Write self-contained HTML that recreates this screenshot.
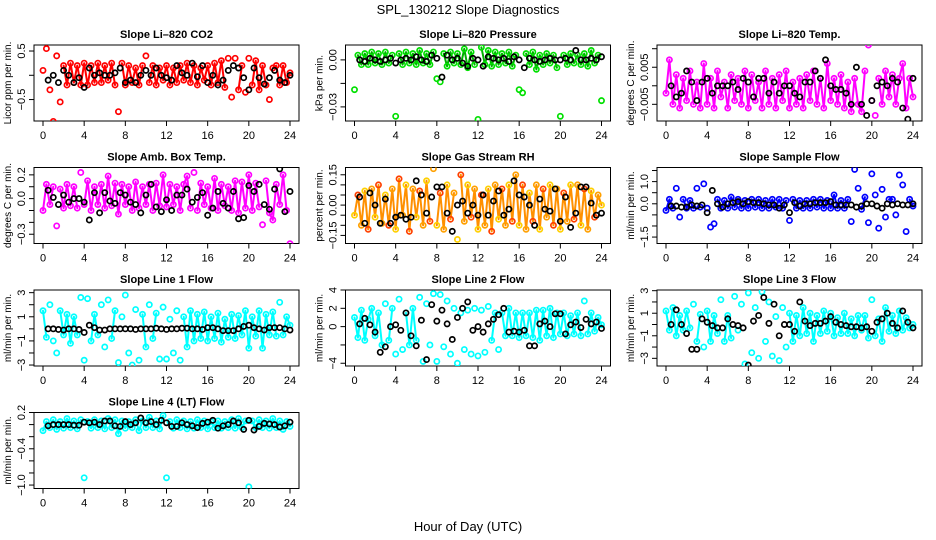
<!DOCTYPE html>
<html><head><meta charset="utf-8"><style>
html,body{margin:0;padding:0;background:#fff;}
svg{display:block;font-family:"Liberation Sans",Arial,sans-serif;}
</style></head><body>
<svg id="chart" width="936" height="540" viewBox="0 0 936 540" xmlns="http://www.w3.org/2000/svg">
<text x="468" y="14" text-anchor="middle" font-size="13">SPL_130212  Slope Diagnostics</text>
<text x="468" y="531" text-anchor="middle" font-size="13">Hour of Day (UTC)</text>
</svg>
<script>
const hours = [0,0.33,0.67,1,1.33,1.67,2,2.33,2.67,3,3.33,3.67,4,4.33,4.67,5,5.33,5.67,6,6.33,6.67,7,7.33,7.67,8,8.33,8.67,9,9.33,9.67,10,10.33,10.67,11,11.33,11.67,12,12.33,12.67,13,13.33,13.67,14,14.33,14.67,15,15.33,15.67,16,16.33,16.67,17,17.33,17.67,18,18.33,18.67,19,19.33,19.67,20,20.33,20.67,21,21.33,21.67,22,22.33,22.67,23,23.33,23.67,24];
const hoursBlack = [0.5,1,1.5,2,2.5,3,3.5,4,4.5,5,5.5,6,6.5,7,7.5,8,8.5,9,9.5,10,10.5,11,11.5,12,12.5,13,13.5,14,14.5,15,15.5,16,16.5,17,17.5,18,18.5,19,19.5,20,20.5,21,21.5,22,22.5,23,23.5,24];
const xTicks = [0,4,8,12,16,20,24];

const co2 = [0.1,0.55,-0.3,-0.95,0.4,-0.55,0.2,-0.2,0.25,-0.15,0.2,-0.2,
0.25,-0.2,0.2,-0.15,0.25,-0.15,0.2,-0.1,0.25,-0.2,-0.75,0.25,
-0.2,0.2,-0.15,0.15,-0.2,0.2,0.4,-0.15,0.2,-0.2,0.15,-0.1,
0.2,-0.2,0.15,-0.15,0.2,-0.1,0.25,-0.15,0.2,-0.2,0.15,-0.1,
0.2,-0.2,0.25,-0.15,0.3,-0.25,0.35,-0.45,0.35,-0.3,0.2,-0.35,
0.35,-0.2,0.3,-0.3,0.2,-0.2,-0.5,0.15,0.2,-0.2,0.2,-0.15,0.05];
const co2Black = [-0.1,0.0,-0.15,0.1,0.0,-0.15,-0.05,-0.25,0.15,0.0,0.05,0.0,
0.0,0.05,0.15,-0.15,-0.1,-0.15,0.0,0.1,0.0,0.15,0.0,-0.05,
-0.1,0.2,0.05,0.0,0.25,-0.03,0.2,-0.15,0.0,-0.2,-0.1,0.1,
0.2,0.15,-0.05,-0.3,0.15,-0.05,-0.18,-0.05,0.1,-0.1,-0.15,0.0];

const pressure = [-0.019,0.003,-0.003,0.004,-0.003,0.005,-0.002,0.004,-0.003,0.005,-0.002,0.003,
-0.036,0.004,-0.003,0.005,-0.002,0.004,-0.003,0.006,-0.002,0.004,-0.003,0.005,
-0.012,-0.014,0.004,-0.004,0.005,-0.002,0.004,-0.003,0.007,-0.005,0.005,-0.003,
-0.038,0.008,-0.003,0.006,-0.004,0.005,-0.003,0.004,-0.002,0.005,-0.004,0.003,
-0.019,-0.021,0.004,-0.003,0.005,-0.006,0.003,-0.003,0.004,-0.002,0.003,-0.005,
-0.036,0.003,-0.003,0.004,-0.002,0.003,-0.003,0.004,-0.004,0.006,-0.002,0.003,-0.026];
const pressureBlack = [0.0,-0.001,0.001,0.0,-0.001,0.0,0.001,-0.002,0.0,0.001,0.0,0.002,
0.0,-0.001,0.003,0.001,-0.011,0.003,0.0,0.001,-0.002,-0.004,0.001,0.0,
-0.004,0.002,0.001,0.0,0.001,-0.001,0.002,0.0,-0.005,0.001,0.0,-0.001,
0.0,0.001,0.0,0.0,0.001,0.0,0.006,0.0,0.0,0.001,0.0,0.002];

const licorTemp = [-0.002,0.007,-0.005,0.003,-0.006,0.002,-0.004,0.004,-0.005,0.001,-0.006,0.006,
-0.005,0.002,-0.006,0.004,-0.003,0.001,-0.006,0.003,-0.004,0.002,-0.005,0.004,
-0.006,0.003,-0.004,0.001,-0.006,0.004,-0.005,0.002,-0.006,0.003,-0.004,0.004,
-0.006,0.001,-0.005,0.002,-0.006,0.003,-0.004,0.004,-0.005,0.002,-0.006,0.006,
-0.004,0.002,-0.005,0.003,-0.006,0.001,-0.007,0.002,-0.005,-0.007,0.004,0.011,
-0.004,-0.008,0.002,-0.005,0.004,-0.003,0.003,-0.005,0.002,0.006,-0.006,0.002,-0.003];
const licorTempBlack = [0.0,-0.003,-0.002,0.004,0.001,-0.004,0.001,0.002,-0.002,0.0,0.0,0.0,
0.001,-0.001,0.002,0.001,-0.003,0.002,0.002,-0.002,0.001,-0.002,0.0,0.0,
-0.002,-0.003,0.001,0.001,0.004,0.002,0.007,0.0,-0.001,-0.001,-0.002,-0.005,
0.005,-0.005,-0.008,-0.004,0.0,0.001,0.0,0.002,0.001,-0.006,-0.009,0.002];

const ambTemp = [-0.1,0.12,-0.05,0.1,-0.23,0.08,-0.08,0.12,-0.06,0.1,-0.08,0.22,
-0.05,0.15,-0.1,0.1,-0.05,0.12,-0.08,0.19,-0.06,0.13,-0.13,0.12,
-0.05,0.1,-0.1,0.14,-0.08,0.1,-0.05,0.12,-0.1,0.13,-0.06,0.2,
-0.07,0.12,-0.05,0.1,-0.1,0.12,0.19,-0.08,0.22,-0.1,0.13,-0.05,
0.1,-0.08,0.17,-0.1,0.12,-0.06,0.1,-0.1,0.15,-0.12,0.14,-0.08,
0.2,-0.1,0.13,-0.07,-0.22,0.15,-0.12,-0.18,0.12,-0.05,0.2,-0.1,-0.38];
const ambTempBlack = [0.07,0.01,-0.05,0.03,-0.03,0.0,0.0,-0.03,-0.18,0.05,-0.12,0.05,
-0.02,-0.04,0.05,0.03,-0.03,-0.05,-0.12,0.03,0.12,-0.07,-0.11,-0.01,
-0.1,0.03,0.03,0.08,-0.03,0.01,0.05,-0.14,-0.08,0.06,-0.04,-0.08,
0.06,-0.17,-0.16,0.11,0.06,0.12,-0.05,-0.09,0.08,0.25,-0.11,0.06];

const gasRH = [-0.05,0.05,-0.1,0.07,-0.12,0.08,-0.06,0.1,-0.09,0.05,-0.1,0.08,
-0.12,0.13,-0.05,0.1,-0.13,0.08,-0.06,0.07,-0.1,0.12,-0.08,0.18,
-0.1,0.06,-0.12,0.1,-0.07,0.06,-0.17,0.15,-0.08,0.1,-0.06,0.08,
-0.12,0.05,-0.1,0.08,-0.13,0.1,-0.07,0.08,-0.1,0.1,-0.08,0.15,
-0.1,0.1,-0.12,0.06,-0.08,0.1,-0.12,0.08,-0.06,0.1,-0.1,0.08,
-0.12,0.06,-0.08,0.1,-0.07,0.1,-0.1,0.08,-0.12,0.07,-0.06,0.05,0.0];
const gasRHBlack = [0.04,-0.09,0.06,0.0,-0.09,0.03,-0.09,-0.06,-0.05,-0.07,-0.06,0.12,
0.05,-0.04,0.04,0.09,0.09,-0.04,-0.13,0.0,0.02,-0.04,0.0,-0.05,
0.05,-0.05,0.02,0.07,-0.05,-0.02,0.12,0.05,0.04,0.0,-0.1,0.03,
-0.02,-0.03,0.08,-0.08,0.04,-0.11,-0.04,0.09,0.09,0.01,-0.05,-0.04];

const sampleFlow = [-0.3,0.2,-0.2,0.7,-0.6,0.2,-0.2,0.15,-0.2,0.7,-0.15,0.9,
-0.2,-1.05,-0.9,0.2,-0.2,0.15,-0.2,0.3,-0.15,0.2,-0.2,0.15,
-0.2,0.2,-0.15,0.2,-0.2,0.15,-0.2,0.2,-0.15,0.2,-0.2,0.15,
-0.75,0.2,-0.2,0.15,-0.2,0.15,-0.2,0.2,-0.15,0.2,-0.2,0.15,
-0.2,0.4,-0.2,0.15,-0.2,0.2,-0.8,1.55,0.7,-0.25,0.3,-0.85,
1.35,0.4,-1.1,0.65,-0.6,0.2,0.2,-0.5,1.3,0.85,-1.25,0.2,-0.1];
const sampleFlowBlack = [-0.1,-0.1,-0.15,-0.15,-0.05,-0.1,-0.05,-0.4,0.6,0.0,-0.15,0.0,
0.05,0.1,0.0,0.1,0.05,0.05,0.0,-0.05,-0.05,-0.2,-0.05,-0.4,
0.05,-0.1,0.0,0.0,0.05,0.05,0.05,0.1,-0.05,-0.05,-0.05,-0.05,
-0.15,-0.1,0.0,0.0,-0.1,-0.2,0.0,-0.05,0.0,-0.05,-0.05,0.0];

const line1 = [1.5,-0.7,2.0,-1.0,-2.0,1.5,-0.5,1.2,-1.2,1.0,-0.5,2.6,
-2.6,2.5,-1.0,1.2,-0.5,2.0,-1.5,2.4,-0.8,1.5,-2.8,1.0,
2.8,-2.0,-3.0,1.6,-2.6,1.2,-1.5,2.0,-0.8,1.3,-2.5,1.8,
-2.5,0.8,-2.0,1.5,-2.6,1.0,-1.5,1.5,-1.0,1.2,-0.8,1.4,
-1.0,1.0,-0.8,1.3,-1.1,0.8,-0.7,1.2,-0.8,1.1,-0.5,1.5,
-1.6,1.0,-0.6,1.5,-1.6,1.2,-0.5,1.4,-0.6,2.2,-0.5,1.0,0.3];
const line1Black = [0.0,0.0,-0.05,-0.1,0.0,0.0,-0.05,-0.3,0.3,0.1,-0.1,-0.1,
0.0,0.0,0.0,0.0,0.0,-0.05,0.0,0.0,0.0,0.05,0.0,-0.05,
0.0,0.0,0.05,0.05,0.0,0.0,-0.05,0.1,0.1,0.0,-0.15,-0.15,
-0.15,0.0,0.2,0.3,0.1,0.0,-0.1,0.1,0.1,0.1,0.0,-0.1];

const line2 = [1.0,-1.2,1.8,-1.5,0.8,2.0,-1.0,1.5,-2.0,2.5,-1.5,2.0,
-3.0,3.0,-2.5,1.5,-2.0,2.0,-1.5,3.2,-3.8,2.5,-2.0,3.6,
-3.8,3.5,-2.2,2.8,-3.0,2.0,-4.0,1.5,-2.5,1.8,-3.0,2.0,
-3.2,1.8,-2.8,2.2,-1.5,1.5,-2.5,1.5,-1.0,2.0,-1.0,1.5,
-1.2,1.5,-1.0,1.5,-1.2,1.8,-1.5,1.8,-1.0,2.0,-1.2,1.5,
-0.8,1.5,-1.0,1.2,-0.8,1.5,-1.0,2.8,-0.8,1.5,-0.5,1.0,0.2];
const line2Black = [0.3,0.9,0.2,-0.6,-2.8,-2.2,0.0,0.2,-0.4,1.5,-1.0,-2.1,
0.7,-3.6,2.4,0.6,1.8,0.3,-1.4,1.0,2.0,2.7,-0.4,0.0,
-0.6,0.3,0.8,1.3,2.0,-0.6,-0.5,-0.6,-0.4,-2.1,-2.1,0.3,
0.6,0.0,1.4,1.4,-0.8,0.2,0.5,-0.1,0.8,0.3,0.5,-0.2];

const line3 = [1.2,-0.5,1.5,-1.0,0.8,-0.5,1.2,-0.3,1.8,-1.5,0.9,-2.0,
1.2,-1.5,0.8,-0.8,2.2,-1.5,0.8,-1.2,2.5,-0.5,1.8,-3.5,
2.8,-2.5,1.5,-3.0,2.9,-1.5,2.0,-2.8,0.7,-3.2,1.5,-2.0,
1.0,-1.5,0.8,-1.0,1.5,-0.8,1.0,-1.5,0.8,-0.8,1.2,-0.6,
1.0,-1.0,0.6,-0.8,1.0,-0.8,0.5,-1.0,0.8,-0.5,0.8,-1.2,
2.2,-1.0,0.5,-1.5,1.5,-0.6,0.8,-0.8,1.2,-0.5,0.6,-0.3,0.0];
const line3Black = [0.0,1.3,0.0,-0.8,-2.2,-2.2,0.5,0.2,-0.1,-0.3,-0.3,0.5,
0.0,-0.1,-0.3,-3.6,0.3,0.8,2.4,0.1,1.8,-1.0,0.0,0.0,
-0.6,2.0,0.3,-0.1,0.1,0.1,0.3,0.7,0.2,0.0,-0.1,-0.2,
-0.2,-0.3,-0.2,-0.6,0.2,0.5,1.0,0.1,-0.3,1.2,0.2,-0.3];

const line4 = [-0.1,0.05,-0.05,0.08,-0.08,0.05,-0.06,0.1,-0.05,0.06,-0.07,0.08,
-0.88,0.05,-0.06,0.08,-0.05,0.06,-0.07,0.1,-0.05,0.08,-0.15,0.06,
-0.06,0.05,-0.05,0.08,-0.1,0.06,-0.05,0.12,-0.05,0.06,-0.07,0.15,
-0.88,0.05,-0.06,0.08,-0.05,0.06,-0.07,0.05,-0.06,0.08,-0.05,0.06,
-0.07,0.05,-0.05,0.06,-0.06,0.05,-0.05,0.08,-0.06,0.1,-0.05,0.06,
-1.03,0.06,-0.05,0.08,-0.05,0.06,-0.06,0.1,-0.05,0.06,-0.08,0.05,-0.03];
const line4Black = [-0.02,0.0,0.0,0.0,0.0,-0.01,-0.01,0.04,0.03,0.04,0.0,0.06,
0.06,-0.02,-0.03,0.05,0.0,0.03,0.11,0.03,0.05,0.0,0.07,0.03,
-0.03,-0.03,0.03,0.0,-0.02,-0.05,0.02,0.04,0.07,-0.06,-0.02,0.0,
0.06,0.03,-0.08,0.07,-0.09,-0.03,0.02,0.01,0.0,-0.04,-0.02,0.04];

const panels = [
 {id:'co2',title:'Slope Li\u2013820 CO2',ylab:'Licor ppm per min.',col:0,row:0,ymin:-0.942,ymax:0.624,ticks:[0.5,0,-0.5],labels:['0.5','','\u22120.5'],colors:['#ff0000'],band:'#ff0000',lim:0.3,vals:co2,black:co2Black},
 {id:'pressure',title:'Slope Li\u2013820 Pressure',ylab:'kPa per min.',col:1,row:0,ymin:-0.039,ymax:0.0095,ticks:[0,-0.015,-0.03],labels:['0.00','','\u22120.03'],colors:['#00e000'],band:'#00b000',lim:0.008,vals:pressure,black:pressureBlack},
 {id:'licor-temp',title:'Slope Li\u2013820 Temp.',ylab:'degrees C per min.',col:2,row:0,ymin:-0.0095,ymax:0.011,ticks:[0.01,0.005,0,-0.005],labels:['','0.005','','\u22120.005'],colors:['#ff00ff'],band:'#ff00ff',lim:0.0072,vals:licorTemp,black:licorTempBlack},
 {id:'amb-temp',title:'Slope Amb. Box Temp.',ylab:'degrees C per min.',col:0,row:1,ymin:-0.378,ymax:0.262,ticks:[0.2,0.1,0,-0.1,-0.2,-0.3],labels:['0.2','','0.0','','','\u22120.3'],colors:['#ff00ff'],band:'#ff00ff',lim:0.2,vals:ambTemp,black:ambTempBlack},
 {id:'gas-rh',title:'Slope Gas Stream RH',ylab:'percent per min.',col:1,row:1,ymin:-0.19,ymax:0.186,ticks:[0.15,0.1,0.05,0,-0.05,-0.1,-0.15],labels:['0.15','','','0.00','','','\u22120.15'],colors:['#ffd000','#ff4000','#ffa000'],band:'#ff9000',lim:0.16,vals:gasRH,black:gasRHBlack},
 {id:'sample-flow',title:'Slope Sample Flow',ylab:'ml/min per min.',col:2,row:1,ymin:-1.79,ymax:1.636,ticks:[1.5,1,0.5,0,-0.5,-1,-1.5],labels:['','1.0','','0.0','','','\u22121.5'],colors:['#0000ff'],band:'#0000ff',lim:0.45,vals:sampleFlow,black:sampleFlowBlack},
 {id:'line1-flow',title:'Slope Line 1 Flow',ylab:'ml/min per min.',col:0,row:2,ymin:-3.08,ymax:3.22,ticks:[3,2,1,0,-1,-2,-3],labels:['3','','1','','\u22121','','\u22123'],colors:['#00ffff'],band:'#00ffff',lim:1.6,vals:line1,black:line1Black},
 {id:'line2-flow',title:'Slope Line 2 Flow',ylab:'ml/min per min.',col:1,row:2,ymin:-4.3,ymax:4.0,ticks:[4,2,0,-2,-4],labels:['4','2','0','','\u22124'],colors:['#00ffff'],band:'#00ffff',lim:2.1,vals:line2,black:line2Black},
 {id:'line3-flow',title:'Slope Line 3 Flow',ylab:'ml/min per min.',col:2,row:2,ymin:-3.68,ymax:3.06,ticks:[3,2,1,0,-1,-2,-3],labels:['3','','1','','\u22121','','\u22123'],colors:['#00ffff'],band:'#00ffff',lim:1.6,vals:line3,black:line3Black},
 {id:'line4-flow',title:'Slope Line 4 (LT) Flow',ylab:'ml/min per min.',col:0,row:3,ymin:-1.057,ymax:0.2,ticks:[0.2,0,-0.2,-0.4,-0.6,-0.8,-1.0],labels:['0.2','','','\u22120.4','','','\u22121.0'],colors:['#00ffff'],band:'#00ffff',lim:0.2,vals:line4,black:line4Black}
];

const NS='http://www.w3.org/2000/svg';
const svg=document.getElementById('chart');
const colLeft=[34,345.5,657], rowTop=[45,167.5,290,412.5], W=265, H=76;
function mk(tag,attrs,parent){const e=document.createElementNS(NS,tag);for(const k in attrs)e.setAttribute(k,attrs[k]);parent.appendChild(e);return e;}

panels.forEach(p=>{
  const L=colLeft[p.col], T=rowTop[p.row], B=T+H;
  const xs=h=>L+9+h*(247/24);
  const ys=v=>T+(p.ymax-v)/(p.ymax-p.ymin)*H;
  const g=mk('g',{},svg);
  
  
  const t=mk('text',{x:L+W/2,y:T-7,'text-anchor':'middle','font-size':'11','font-weight':'bold'},g);
  t.textContent=p.title;
  
  
  const box=mk('rect',{x:L,y:T,width:W,height:H,fill:'none',stroke:'#000','stroke-width':'1'},g);
  
  
  const xa=mk('g',{},g);
  
  
  xTicks.forEach(v=>{
    mk('line',{x1:xs(v),x2:xs(v),y1:B,y2:B+5,stroke:'#000'},xa);
    const tl=mk('text',{x:xs(v),y:B+18,'text-anchor':'middle','font-size':'11'},xa);
    tl.textContent=v;
    
    
  });
  const ya=mk('g',{},g);
  
  
  p.ticks.forEach((v,i)=>{
    const y=ys(v);
    mk('line',{x1:L-5,x2:L,y1:y,y2:y,stroke:'#000'},ya);
    if(p.labels[i]){
      const tl=mk('text',{x:0,y:0,transform:'translate('+(L-9)+','+y+') rotate(-90)','text-anchor':'middle','font-size':'11'},ya);
      tl.textContent=p.labels[i];
      
      
    }
  });
  const yt=mk('text',{x:0,y:0,transform:'translate('+(L-23)+','+(T+H/2)+') rotate(-90)','text-anchor':'middle','font-size':'10'},g);
  yt.textContent=p.ylab;
  
  
  const clip='clip-'+p.id;
  const cp=mk('clipPath',{id:clip},g);
  mk('rect',{x:L,y:T,width:W,height:H},cp);
  const pts=mk('g',{'clip-path':'url(#'+clip+')'},g);
  
  
  const n=Math.min(hours.length,p.vals.length);
  let d='';
  for(let i=1;i<n;i++){
    const a=p.vals[i-1], b=p.vals[i];
    if(Math.abs(a)<=p.lim && Math.abs(b)<=p.lim){
      d+='M'+xs(hours[i-1]).toFixed(1)+','+ys(a).toFixed(1)+'L'+xs(hours[i]).toFixed(1)+','+ys(b).toFixed(1);
    }
  }
  const band=mk('path',{d:d,fill:'none',stroke:p.band,'stroke-width':'2','stroke-linecap':'round'},pts);
  
  
  for(let i=0;i<n;i++){
    const c=mk('circle',{cx:xs(hours[i]),cy:ys(p.vals[i]),r:2.6,fill:'none',stroke:p.colors[i%p.colors.length],'stroke-width':'1.7'},pts);
    
    
  }
  const nb=Math.min(hoursBlack.length,p.black.length);
  for(let i=0;i<nb;i++){
    const c=mk('circle',{cx:xs(hoursBlack[i]),cy:ys(p.black[i]),r:2.6,fill:'none',stroke:'#000','stroke-width':'1.7'},pts);
    
    
  }
});
</script>
</body></html>
